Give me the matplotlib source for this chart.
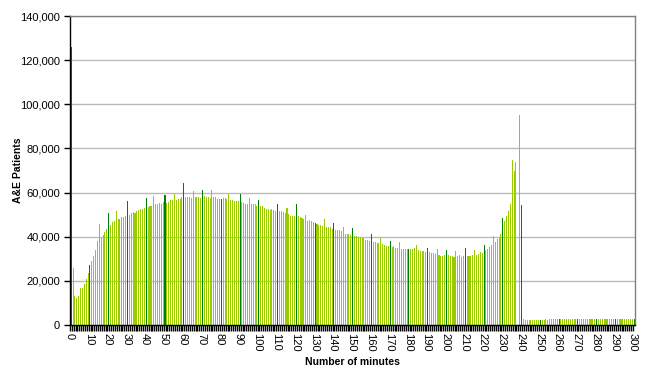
import numpy as np
import matplotlib
matplotlib.use("Agg")
import matplotlib.pyplot as plt
from matplotlib.ticker import FuncFormatter, MultipleLocator

# A&E patients by number of minutes spent in the department
minutes = np.arange(0, 301)

patients = [
    126000, 26000, 13100, 12200, 13100, 16800, 16800, 18600, 20800, 23500,   # 0-9
    27000, 29000, 31300, 34000, 38000, 45700, 39400, 40800, 42100, 43500,    # 10-19
    50900, 45300, 46700, 47100, 51600, 48000, 48000, 48900, 48900, 49500,    # 20-29
    56200, 49800, 50700, 51100, 50700, 51600, 52000, 52600, 52600, 53000,    # 30-39
    57500, 53500, 53900, 53900, 58400, 54800, 54800, 55300, 54800, 55700,    # 40-49
    58900, 55300, 55700, 56600, 56600, 59400, 56600, 57100, 57100, 58000,    # 50-59
    64300, 58000, 58000, 58000, 57500, 60700, 58000, 58000, 58000, 57500,    # 60-69
    61200, 58400, 58000, 58000, 57500, 61200, 58000, 58000, 57100, 57100,    # 70-79
    57100, 57500, 57500, 57100, 59400, 56600, 56600, 56200, 56200, 56200,    # 80-89
    59400, 55700, 55300, 54800, 54800, 57500, 54800, 54800, 54800, 53900,    # 90-99
    56600, 53900, 53900, 53000, 52600, 52600, 52100, 52600, 52100, 51600,    # 100-109
    54800, 51600, 51600, 51200, 50700, 53000, 50300, 49400, 49400, 49400,    # 110-119
    54800, 49400, 48900, 48500, 48000, 49800, 47100, 47600, 47100, 46700,    # 120-129
    46200, 45800, 45300, 45300, 44900, 48000, 44400, 44400, 44400, 43500,    # 130-139
    46200, 43000, 43000, 43000, 42600, 44400, 41200, 41200, 41200, 40800,    # 140-149
    43900, 40300, 40300, 40000, 39900, 39400, 39400, 38500, 38500, 38100,    # 150-159
    41200, 37600, 37600, 37100, 37100, 39400, 36700, 36200, 35800, 35800,    # 160-169
    38100, 35300, 35800, 34900, 34900, 37600, 34400, 34400, 34400, 34400,    # 170-179
    34400, 34400, 34400, 34900, 36200, 34000, 33500, 33500, 33500, 33100,    # 180-189
    34900, 33100, 32600, 32600, 32200, 34400, 31700, 31300, 31300, 31700,    # 190-199
    34000, 31700, 31300, 31300, 30800, 33500, 31300, 31700, 30800, 31300,    # 200-209
    34900, 31300, 31300, 31300, 31700, 34000, 31700, 32200, 33100, 32600,    # 210-219
    36200, 34000, 34400, 35300, 36200, 40300, 37600, 39000, 39900, 41200,    # 220-229
    48500, 47100, 49400, 51600, 55000, 74800, 69800, 73900, 0, 95100,        # 230-239
    54400, 2700, 2300, 2300, 2300, 2300, 2300, 2300, 2300, 2300,             # 240-249
    2300, 2300, 2300, 2500, 2300, 2500, 2700, 2500, 2500, 2700,              # 250-259
    2700, 2500, 2700, 2500, 2700, 2700, 2500, 2700, 2700, 2500,              # 260-269
    2700, 2700, 2700, 2500, 2700, 2700, 2700, 2500, 2700, 2700,              # 270-279
    2700, 2700, 2500, 2700, 2700, 2700, 2700, 2500, 2700, 2700,              # 280-289
    2700, 2700, 2700, 2500, 2700, 2700, 2700, 2700, 2500, 2700,              # 290-299
    2700,                                                                     # 300
]

light_green = "#99CC00"
dark_green = "#008000"
colors = [dark_green if m % 10 == 0 else light_green for m in minutes]

fig = plt.figure(figsize=(6.47, 3.76), dpi=100)
ax = fig.add_axes([0.108, 0.136, 0.873, 0.821])

# each bar sits a little right of its minute tick, like the Excel original
ax.bar(minutes + 0.7, patients, width=0.55, color=colors, linewidth=0, zorder=3)

ax.set_xlim(0, 301)
ax.set_ylim(0, 140000)

ax.yaxis.set_major_locator(MultipleLocator(20000))
ax.yaxis.set_major_formatter(FuncFormatter(lambda v, p: f"{int(v):,}"))
ax.grid(axis="y", color="#BBBBBB", linewidth=1, zorder=0)

ax.set_xticks(np.arange(0, 301, 10))
ax.set_xticks(np.arange(0, 301, 1), minor=True)
ax.tick_params(axis="x", which="major", length=4, width=1, color="black",
               labelsize=8, pad=2, labelrotation=-90)
ax.tick_params(axis="x", which="minor", length=4, width=1, color="black")
ax.tick_params(axis="y", length=4, width=1, color="black", labelsize=8, pad=3)
for lab in ax.get_xticklabels() + ax.get_yticklabels():
    lab.set_family("Liberation Sans")

ax.spines["left"].set_color("black")
ax.spines["bottom"].set_color("black")
ax.spines["top"].set_color("#808080")
ax.spines["right"].set_color("#808080")
for s in ax.spines.values():
    s.set_linewidth(1)
    s.set_zorder(4)

ax.set_xlabel("Number of minutes", fontsize=7.5, fontweight="bold",
              family="Liberation Sans")
ax.xaxis.set_label_coords(0.5, -0.105)
ax.set_ylabel("A&E Patients", fontsize=7.5, fontweight="bold",
              family="Liberation Sans", va="center")
ax.yaxis.set_label_coords(-0.092, 0.5)

fig.savefig("out.png", dpi=100)
